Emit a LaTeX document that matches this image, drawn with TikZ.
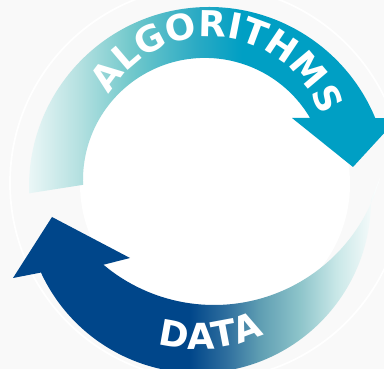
\documentclass[tikz,border=0pt]{standalone}
\usepackage{fontspec}
\newfontfamily\ringfamily{DejaVu Sans}
\newcommand{\ringlabel}{\ringfamily\bfseries\fontsize{30.5}{36}\selectfont}
\usetikzlibrary{calc,decorations.text}

% colours of the two arrows
\definecolor{algopale}{HTML}{EEF8F8}
\definecolor{algolight}{HTML}{B6E1E1}
\definecolor{algomid}{HTML}{73C9CC}
\definecolor{algodeep}{HTML}{2AAAC4}
\definecolor{algoteal}{HTML}{009FC4}
\definecolor{datablue}{HTML}{00468A}
\definecolor{datamid}{HTML}{2E6E9E}
\definecolor{datagrey}{HTML}{5E9DB2}
\definecolor{datateal}{HTML}{8DC4CA}
\definecolor{datapale}{HTML}{C8E7E7}
\definecolor{bgpale}{HTML}{F9F9F9}

\pgfdeclarehorizontalshading{algoshade}{100bp}{color(0bp)=(algopale); color(25bp)=(algopale); color(32bp)=(algolight); color(39bp)=(algomid); color(48bp)=(algodeep); color(54bp)=(algoteal); color(100bp)=(algoteal)}
\pgfdeclarehorizontalshading{datashade}{100bp}{color(0bp)=(datablue); color(49bp)=(datablue); color(54bp)=(datamid); color(58.5bp)=(datagrey); color(64bp)=(datateal); color(69bp)=(datapale); color(75bp)=(white); color(100bp)=(white)}

\begin{document}
\begin{tikzpicture}[x=0.03cm, y=0.03cm]

% Frame
\useasboundingbox (0,0) rectangle (384,369);
\clip (0,0) rectangle (384,369);
\fill[bgpale] (0,0) rectangle (384,369);

% Faint ring and white middle
\draw[white, line width=1.5pt] (207,186) circle (197);
\fill[white] (215,185) circle (135);

% Centres of the arcs
\coordinate (algoOuter) at (209,182);
\coordinate (algoInner) at (205,189);
\coordinate (dataOuter) at (198,169);
\coordinate (dataInner) at (214,236);

% Head of the ALGORITHMS arrow
\coordinate (algoBarbOut) at (398,251);
\coordinate (algoTip) at (353,202);
\coordinate (algoBarbIn) at (292,251);
\coordinate (algoNeck) at (310.1,251);

% Head of the DATA arrow
\coordinate (dataBarbOut) at (13,91);
\coordinate (dataTip) at (52,152);
\coordinate (dataBarbIn) at (130,111);

% ALGORITHMS arrow
\shade[shading=algoshade]
  ($(algoOuter)+(182:180)$) arc[start angle=182, end angle=22.5, radius=180]
  -- (algoBarbOut) -- (algoTip) -- (algoBarbIn) -- (algoNeck)
  arc[start angle=30.5, end angle=182.3, radius=122] -- cycle;

% DATA arrow
\shade[shading=datashade]
  ($(dataOuter)+(0:173)$) arc[start angle=0, end angle=-155.2, radius=173]
  -- (dataBarbOut) -- (dataTip) -- (dataBarbIn) -- ($(dataInner)+(-130:172)$)
  arc[start angle=-130, end angle=-15, radius=172] -- cycle;

% Labels along the arcs
\coordinate (algoText) at (210,215.5);
\coordinate (dataText) at (199,171);
\path[decorate, decoration={text along path, text={|\ringlabel|ALGORITHMS},
    text align=center, text color=white}]
  ($(algoText)+(174.2:116.5)$) arc[start angle=174.2, end angle=-5.8, radius=116.5];
\path[decorate, decoration={text along path, text={|\ringlabel|DATA},
    text align=center, text color=white}]
  ($(dataText)+(-145:151)$) arc[start angle=-145, end angle=-25, radius=151];

\end{tikzpicture}
\end{document}
